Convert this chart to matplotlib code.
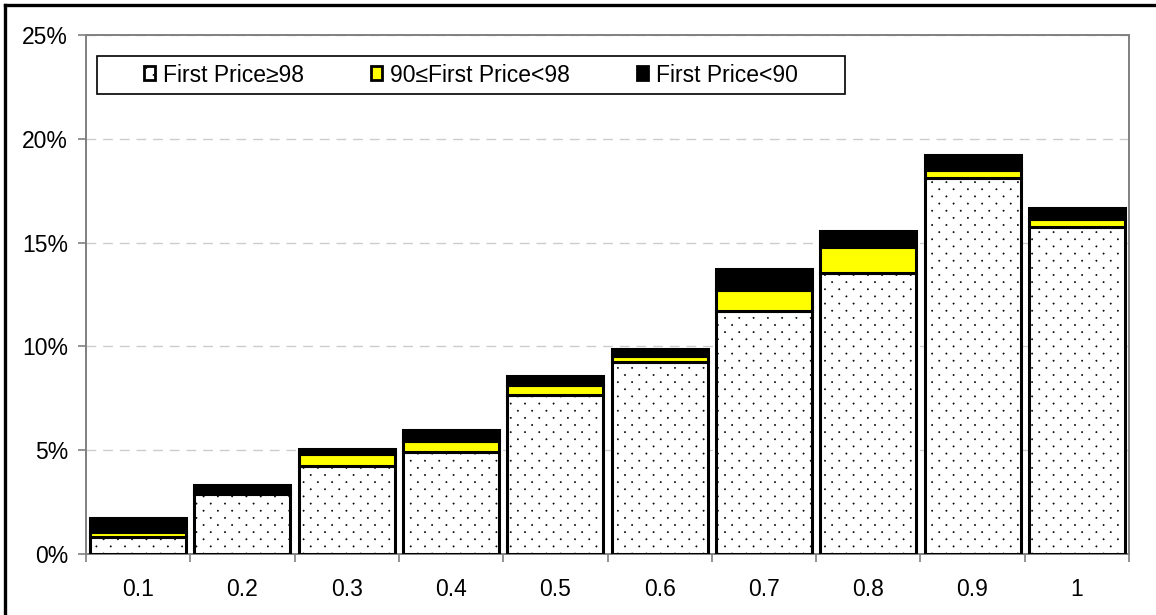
import numpy as np
import matplotlib
matplotlib.use("Agg")
import matplotlib.pyplot as plt
import matplotlib.hatch as mhatch
from matplotlib.path import Path
from matplotlib.patches import Patch, Rectangle
from matplotlib.lines import Line2D
from matplotlib.ticker import FixedLocator, PercentFormatter

# ---- data (shares, in percent) ----
categories = ["0.1", "0.2", "0.3", "0.4", "0.5", "0.6", "0.7", "0.8", "0.9", "1"]
price_ge_98 = [0.80, 2.89, 4.22, 4.91, 7.67, 9.23, 11.72, 13.52, 18.11, 15.75]
price_90_98 = [0.25, 0.14, 0.60, 0.52, 0.46, 0.32, 1.00, 1.25, 0.37, 0.40]
price_lt_90 = [0.68, 0.29, 0.22, 0.54, 0.46, 0.32, 1.01, 0.80, 0.74, 0.50]
series_labels = ["First Price\u226598", "90\u2264First Price<98", "First Price<90"]
y_ticks = [0, 5, 10, 15, 20, 25]


# A fine dot screen (diamond lattice of small dots) used for the '.' hatch.
class StaggeredDots(mhatch.HatchPatternBase):
    periods = 7
    radius = 0.0065

    def __init__(self, hatch, density):
        circle = Path.unit_circle()
        self._verts = circle.vertices
        self._codes = circle.codes
        n = self.periods
        self.num_shapes = 2 * n * n if hatch.count('.') > 0 else 0
        self.num_vertices = self.num_shapes * len(self._verts)

    def set_vertices_and_codes(self, vertices, codes):
        n = self.periods
        step = 1.0 / n
        centres = []
        for i in range(n):
            for j in range(n):
                centres.append(((i + 0.25) * step, (j + 0.25) * step))
                centres.append(((i + 0.75) * step, (j + 0.75) * step))
        parts = [self._verts * self.radius + np.array(c) for c in centres]
        np.concatenate(parts, out=vertices)
        np.concatenate([self._codes] * len(centres), out=codes)


mhatch._hatch_types = [StaggeredDots if t is mhatch.SmallFilledCircles else t
                       for t in mhatch._hatch_types]

plt.rcParams["font.family"] = ["Liberation Sans", "DejaVu Sans"]
plt.rcParams["font.size"] = 16.5
plt.rcParams["hatch.linewidth"] = 0.4

W, H = 1156, 615
fig = plt.figure(figsize=(W / 100, H / 100), dpi=100)
fig.patch.set_facecolor("white")

# outer chart frame (top and left edges)
fig.add_artist(Line2D([5 / W, 5 / W], [0, 1 - 5 / H], transform=fig.transFigure,
                      color="black", lw=2.4))
fig.add_artist(Line2D([5 / W, 1], [1 - 5 / H, 1 - 5 / H], transform=fig.transFigure,
                      color="black", lw=2.4))

ax = fig.add_axes([86 / W, 1 - 554 / H, (1129 - 86) / W, (554 - 35) / H])

x = np.arange(len(categories))
bw = 0.92
ge98 = np.array(price_ge_98)
mid = np.array(price_90_98)
lt90 = np.array(price_lt_90)

ax.bar(x, ge98, bw, color="white", edgecolor="black", lw=2.2, hatch=".", zorder=3)
ax.bar(x, mid, bw, bottom=ge98, color="#ffff00", edgecolor="black", lw=2.2, zorder=3)
ax.bar(x, lt90, bw, bottom=ge98 + mid, color="black", edgecolor="black", lw=2.2, zorder=3)

ax.set_xlim(-0.5, len(categories) - 0.5)
ax.set_ylim(0, 25)

# y axis
ax.yaxis.set_major_locator(FixedLocator(y_ticks))
ax.yaxis.set_major_formatter(PercentFormatter(decimals=0))
ax.tick_params(axis="y", direction="out", length=6, width=1.2, color="#808080",
               pad=7, labelcolor="black")
ax.grid(axis="y", color="#cccccc", linestyle=(0, (7, 5)), linewidth=1.0, zorder=0)

# x axis: tick marks between categories, labels centred
ax.set_xticks(np.arange(len(categories) + 1) - 0.5)
ax.set_xticklabels([])
ax.set_xticks(x, minor=True)
ax.set_xticklabels(categories, minor=True)
ax.tick_params(axis="x", which="major", direction="out", length=6, width=1.2,
               color="#808080")
ax.tick_params(axis="x", which="minor", length=0, pad=17, labelcolor="black")

for s in ax.spines.values():
    s.set_color("#808080")
    s.set_linewidth(1.4)

# legend with its own frame
lx0, ly0, lx1, ly1 = 97, 56, 845, 94
fig.add_artist(Rectangle((lx0 / W, 1 - ly1 / H), (lx1 - lx0) / W, (ly1 - ly0) / H,
                         transform=fig.transFigure, facecolor="white",
                         edgecolor="black", lw=1.2, zorder=5))
handles = [
    Patch(facecolor="white", edgecolor="black", lw=2.0, hatch="."),
    Patch(facecolor="#ffff00", edgecolor="black", lw=2.0),
    Patch(facecolor="black", edgecolor="black", lw=2.0),
]
leg = fig.legend(handles, series_labels, loc="center", ncol=3,
                 bbox_to_anchor=((lx0 + lx1) / 2 / W, 1 - (ly0 + ly1) / 2 / H),
                 bbox_transform=fig.transFigure, frameon=False,
                 handlelength=0.5, handleheight=0.55, handletextpad=0.35,
                 columnspacing=2.9, borderpad=0.2, fontsize=16.5)
leg.set_zorder(6)

fig.savefig("out.png", dpi=100)
